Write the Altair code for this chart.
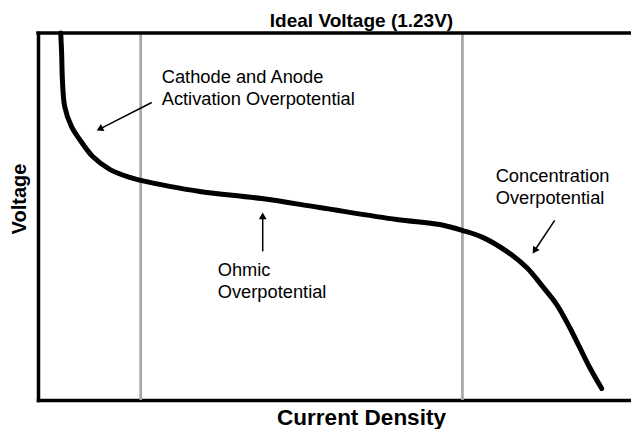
import math
import altair as alt
import pandas as pd

# ---- data (arbitrary current units, volts) ----
current = [3.78, 3.94, 4.06, 4.44, 5.56, 6.94, 9.10, 11.93, 15.26, 17.09, 21.91,
           26.91, 37.22, 46.87, 59.68, 66.84, 70.66, 73.99, 77.99, 81.31, 83.98,
           86.31, 88.47, 90.13, 91.80, 93.79]
voltage = [1.23, 1.158, 1.074, 0.984, 0.917, 0.873, 0.816, 0.773, 0.746, 0.736,
           0.716, 0.699, 0.675, 0.645, 0.605, 0.588, 0.568, 0.545, 0.498, 0.444,
           0.380, 0.320, 0.243, 0.176, 0.109, 0.0385]

ideal_voltage = 1.23
x_max = 98.67
region_bounds = [17.09, 70.62]

ann_text = ["Cathode and Anode\nActivation Overpotential",
            "Ohmic\nOverpotential",
            "Concentration\nOverpotential"]
ann_x = [20.58, 29.90, 76.15]
ann_v = [1.064, 0.414, 0.729]

arrow_start_x = [18.92, 37.39, 85.97]
arrow_start_v = [0.997, 0.498, 0.602]
arrow_tip_x = [9.77, 37.39, 82.31]
arrow_tip_v = [0.903, 0.628, 0.491]

W, H = 593, 367
FONT = "Liberation Sans"

xs = alt.Scale(domain=[0, x_max], nice=False, zero=False)
ys = alt.Scale(domain=[0, ideal_voltage], nice=False, zero=False)

curve_df = pd.DataFrame({"i": range(len(current)), "x": current, "v": voltage})
bounds_df = pd.DataFrame({"x": region_bounds})
top_df = pd.DataFrame({"x": [0], "x2": [x_max], "v": [ideal_voltage]})
ann_df = pd.DataFrame({"t": ann_text, "x": ann_x, "v": ann_v})

# arrow geometry (heads as rotated triangles)
sx, sy = W / x_max, H / ideal_voltage
head_size = 60
r = math.sqrt(head_size) / 2
h = math.sqrt(3) * r / 2
rows_shaft, rows_head = [], []
for x0, v0, x1, v1 in zip(arrow_start_x, arrow_start_v, arrow_tip_x, arrow_tip_v):
    dx = (x1 - x0) * sx
    dy = -(v1 - v0) * sy
    L = math.hypot(dx, dy)
    ux, uy = dx / L, dy / L
    ang = math.degrees(math.atan2(ux, -uy)) % 360
    rows_head.append({"x": x1 - ux * h / sx, "v": v1 + uy * h / sy, "a": ang})
    rows_shaft.append({"x": x0, "v": v0,
                       "x2": x1 - ux * 1.6 * h / sx, "v2": v1 + uy * 1.6 * h / sy})
shaft_df = pd.DataFrame(rows_shaft)
head_df = pd.DataFrame(rows_head)

base_axis_x = alt.Axis(domain=True, domainColor="black", domainWidth=3.5,
                       domainCap="square", ticks=False, labels=False, grid=False,
                       title=None)
base_axis_y = alt.Axis(domain=True, domainColor="black", domainWidth=3.5,
                       domainCap="square", ticks=False, labels=False, grid=False,
                       title=None)

gray = alt.Chart(bounds_df).mark_rule(color="#a6a6a6", strokeWidth=2.7).encode(
    x=alt.X("x:Q", scale=xs, axis=base_axis_x),
    y=alt.value(0), y2=alt.value(H))

curve = alt.Chart(curve_df).mark_line(
    color="black", strokeWidth=5, strokeCap="round", strokeJoin="round",
    interpolate="catmull-rom").encode(
    x=alt.X("x:Q", scale=xs, axis=base_axis_x),
    y=alt.Y("v:Q", scale=ys, axis=base_axis_y),
    order="i:Q")

top = alt.Chart(top_df).mark_rule(color="black", strokeWidth=3.5,
                                  strokeCap="square").encode(
    x=alt.X("x:Q", scale=xs), x2="x2:Q", y=alt.Y("v:Q", scale=ys))

shafts = alt.Chart(shaft_df).mark_rule(color="black", strokeWidth=1.5).encode(
    x=alt.X("x:Q", scale=xs), x2="x2:Q",
    y=alt.Y("v:Q", scale=ys), y2="v2:Q")

heads = alt.Chart(head_df).mark_point(shape="triangle-up", filled=True,
                                      color="black", size=head_size,
                                      opacity=1).encode(
    x=alt.X("x:Q", scale=xs), y=alt.Y("v:Q", scale=ys),
    angle=alt.Angle("a:Q", scale=None))

labels = alt.Chart(ann_df).mark_text(
    align="left", baseline="alphabetic", font=FONT, fontSize=18.3,
    lineBreak="\n", lineHeight=22, color="black").encode(
    x=alt.X("x:Q", scale=xs), y=alt.Y("v:Q", scale=ys), text="t:N")

title_top = alt.Chart(pd.DataFrame({"t": ["Ideal Voltage (1.23V)"]})).mark_text(
    align="center", baseline="alphabetic", font=FONT, fontSize=19,
    fontWeight="bold", color="black").encode(
    x=alt.value(323.5), y=alt.value(-6), text="t:N")

title_x = alt.Chart(pd.DataFrame({"t": ["Current Density"]})).mark_text(
    align="center", baseline="alphabetic", font=FONT, fontSize=22.5,
    fontWeight="bold", color="black").encode(
    x=alt.value(323.5), y=alt.value(392), text="t:N")

title_y = alt.Chart(pd.DataFrame({"t": ["Voltage"]})).mark_text(
    align="center", baseline="alphabetic", font=FONT, fontSize=20,
    fontWeight="bold", color="black", angle=270).encode(
    x=alt.value(-12.5), y=alt.value(166), text="t:N")

chart = alt.layer(gray, curve, top, shafts, heads, labels,
                  title_top, title_x, title_y).properties(
    width=W, height=H,
    autosize=alt.AutoSizeParams(type="none"),
    padding={"left": 30, "top": 25, "right": 0, "bottom": 29},
    background="white",
).configure_view(stroke=None)

chart.save("out.html", embed_options={"renderer": "svg", "actions": False})
